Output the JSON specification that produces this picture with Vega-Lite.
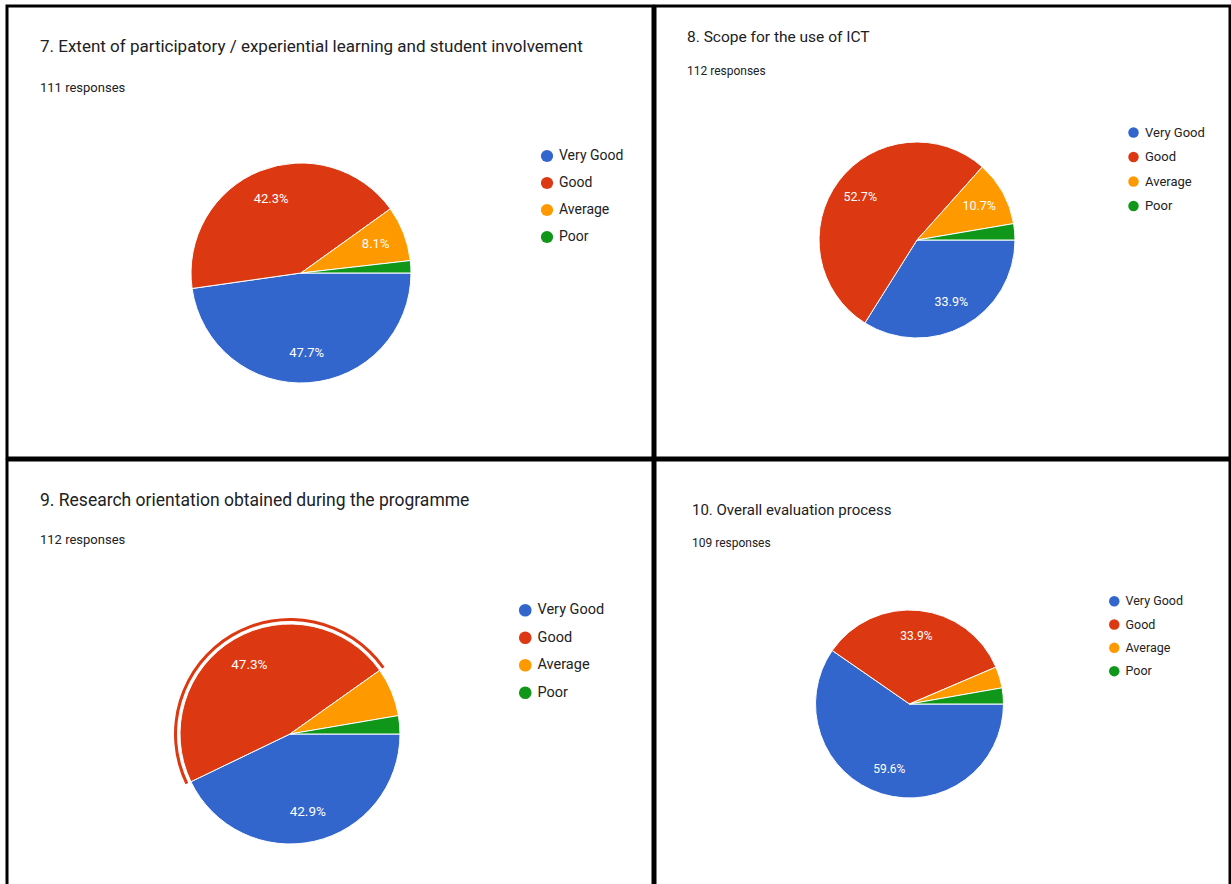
{
  "$schema": "https://vega.github.io/schema/vega-lite/v6.json",
  "background": "white",
  "padding": {"left": 5, "top": 4, "right": 0, "bottom": 0},
  "spacing": -4,
  "columns": 2,
  "config": {
    "view": {"stroke": "black", "strokeWidth": 3},
    "font": "Roboto",
    "title": {"anchor": "start", "frame": "group", "color": "#202124", "subtitleColor": "#202124", "fontWeight": "normal", "subtitleFontWeight": "normal"},
    "legend": {"orient": "none", "title": null, "symbolType": "circle", "symbolStrokeWidth": 0, "labelColor": "#222222", "labelFont": "Roboto", "padding": 0}
  },
  "datasets": {
    "q7": [
      {"answer": "Very Good", "ord": 1, "count": 53, "share": 0.477},
      {"answer": "Good", "ord": 2, "count": 47, "share": 0.423},
      {"answer": "Average", "ord": 3, "count": 9, "share": 0.081},
      {"answer": "Poor", "ord": 4, "count": 2, "share": 0.018}
    ],
    "q8": [
      {"answer": "Very Good", "ord": 1, "count": 38, "share": 0.339},
      {"answer": "Good", "ord": 2, "count": 59, "share": 0.527},
      {"answer": "Average", "ord": 3, "count": 12, "share": 0.107},
      {"answer": "Poor", "ord": 4, "count": 3, "share": 0.027}
    ],
    "q9": [
      {"answer": "Very Good", "ord": 1, "count": 48, "share": 0.429},
      {"answer": "Good", "ord": 2, "count": 53, "share": 0.473},
      {"answer": "Average", "ord": 3, "count": 8, "share": 0.071},
      {"answer": "Poor", "ord": 4, "count": 3, "share": 0.027}
    ],
    "q10": [
      {"answer": "Very Good", "ord": 1, "count": 65, "share": 0.596},
      {"answer": "Good", "ord": 2, "count": 37, "share": 0.339},
      {"answer": "Average", "ord": 3, "count": 4, "share": 0.037},
      {"answer": "Poor", "ord": 4, "count": 3, "share": 0.028}
    ]
  },
  "resolve": {"scale": {"color": "independent", "theta": "independent"}, "legend": {"color": "independent"}},
  "concat": [
    {
      "width": 646, "height": 452,
      "view": {"stroke": "black", "strokeWidth": 3},
      "title": {"text": "7. Extent of participatory / experiential learning and student involvement", "subtitle": "111 responses", "fontSize": 17, "subtitleFontSize": 13, "dx": 33, "offset": -90, "subtitlePadding": 26},
      "data": {"name": "q7"},
      "encoding": {
        "theta": {"field": "count", "type": "quantitative", "stack": true, "scale": {"range": [1.5708, 7.854]}},
        "order": {"field": "ord", "type": "quantitative"}
      },
      "layer": [
        {
          "mark": {"type": "arc", "radius": 110, "x": 294, "y": 267, "stroke": "white", "strokeWidth": 1},
          "encoding": {
            "color": {"field": "answer", "type": "nominal", "sort": ["Very Good", "Good", "Average", "Poor"],
              "scale": {"domain": ["Very Good", "Good", "Average", "Poor"], "range": ["#3366cc", "#dc3912", "#ff9900", "#109618"]},
              "legend": {"legendX": 533, "legendY": 143, "symbolSize": 150, "labelFontSize": 14, "rowPadding": 13, "labelOffset": 5}}
          }
        },
        {
          "mark": {"type": "text", "radius": 80, "x": 294, "y": 267, "fontSize": 13, "font": "Roboto"},
          "encoding": {
            "text": {"field": "share", "type": "quantitative", "format": ".1%"},
            "color": {"value": "white"},
            "opacity": {"condition": {"test": "datum.share < 0.075", "value": 0}, "value": 1}
          }
        }
      ]
    },
    {
      "width": 575, "height": 452,
      "view": {"stroke": "black", "strokeWidth": 3},
      "title": {"text": "8. Scope for the use of ICT", "subtitle": "112 responses", "fontSize": 15.5, "subtitleFontSize": 12, "dx": 32, "offset": -71, "subtitlePadding": 21},
      "data": {"name": "q8"},
      "encoding": {
        "theta": {"field": "count", "type": "quantitative", "stack": true, "scale": {"range": [1.5708, 7.854]}},
        "order": {"field": "ord", "type": "quantitative"}
      },
      "layer": [
        {
          "mark": {"type": "arc", "radius": 98, "x": 262, "y": 234, "stroke": "white", "strokeWidth": 1},
          "encoding": {
            "color": {"field": "answer", "type": "nominal", "sort": ["Very Good", "Good", "Average", "Poor"],
              "scale": {"domain": ["Very Good", "Good", "Average", "Poor"], "range": ["#3366cc", "#dc3912", "#ff9900", "#109618"]},
              "legend": {"legendX": 472, "legendY": 120, "symbolSize": 110, "labelFontSize": 13, "rowPadding": 10.5, "labelOffset": 5}}
          }
        },
        {
          "mark": {"type": "text", "radius": 71, "x": 262, "y": 234, "fontSize": 12.5, "font": "Roboto"},
          "encoding": {
            "text": {"field": "share", "type": "quantitative", "format": ".1%"},
            "color": {"value": "white"},
            "opacity": {"condition": {"test": "datum.share < 0.075", "value": 0}, "value": 1}
          }
        }
      ]
    },
    {
      "width": 646, "height": 427,
      "view": {"stroke": "black", "strokeWidth": 3},
      "title": {"text": "9. Research orientation obtained during the programme", "subtitle": "112 responses", "fontSize": 17.5, "subtitleFontSize": 13, "dx": 33, "offset": -86.5, "subtitlePadding": 24.5},
      "data": {"name": "q9"},
      "encoding": {
        "theta": {"field": "count", "type": "quantitative", "stack": true, "scale": {"range": [1.5708, 7.854]}},
        "order": {"field": "ord", "type": "quantitative"}
      },
      "layer": [
        {
          "mark": {"type": "arc", "radius": 116, "radius2": 113, "x": 283, "y": 274},
          "encoding": {
            "color": {"value": "#dc3912"},
            "opacity": {"condition": {"test": "datum.answer === 'Good'", "value": 1}, "value": 0}
          }
        },
        {
          "mark": {"type": "arc", "radius": 110, "x": 283, "y": 274, "stroke": "white", "strokeWidth": 1},
          "encoding": {
            "color": {"field": "answer", "type": "nominal", "sort": ["Very Good", "Good", "Average", "Poor"],
              "scale": {"domain": ["Very Good", "Good", "Average", "Poor"], "range": ["#3366cc", "#dc3912", "#ff9900", "#109618"]},
              "legend": {"legendX": 511, "legendY": 143, "symbolSize": 160, "labelFontSize": 14.5, "rowPadding": 12.5, "labelOffset": 5}}
          }
        },
        {
          "mark": {"type": "text", "radius": 80, "x": 283, "y": 274, "fontSize": 13.5, "font": "Roboto"},
          "encoding": {
            "text": {"field": "share", "type": "quantitative", "format": ".1%"},
            "color": {"value": "white"},
            "opacity": {"condition": {"test": "datum.share < 0.075", "value": 0}, "value": 1}
          }
        }
      ]
    },
    {
      "width": 575, "height": 427,
      "view": {"stroke": "black", "strokeWidth": 3},
      "title": {"text": "10. Overall evaluation process", "subtitle": "109 responses", "fontSize": 15, "subtitleFontSize": 12, "dx": 37, "offset": -89, "subtitlePadding": 20.5},
      "data": {"name": "q10"},
      "encoding": {
        "theta": {"field": "count", "type": "quantitative", "stack": true, "scale": {"range": [1.5708, 7.854]}},
        "order": {"field": "ord", "type": "quantitative"}
      },
      "layer": [
        {
          "mark": {"type": "arc", "radius": 94, "x": 254.5, "y": 244, "stroke": "white", "strokeWidth": 1},
          "encoding": {
            "color": {"field": "answer", "type": "nominal", "sort": ["Very Good", "Good", "Average", "Poor"],
              "scale": {"domain": ["Very Good", "Good", "Average", "Poor"], "range": ["#3366cc", "#dc3912", "#ff9900", "#109618"]},
              "legend": {"legendX": 453, "legendY": 135, "symbolSize": 110, "labelFontSize": 12.5, "rowPadding": 10.3, "labelOffset": 5}}
          }
        },
        {
          "mark": {"type": "text", "radius": 68, "x": 254.5, "y": 244, "fontSize": 12, "font": "Roboto"},
          "encoding": {
            "text": {"field": "share", "type": "quantitative", "format": ".1%"},
            "color": {"value": "white"},
            "opacity": {"condition": {"test": "datum.share < 0.075", "value": 0}, "value": 1}
          }
        }
      ]
    }
  ]
}
